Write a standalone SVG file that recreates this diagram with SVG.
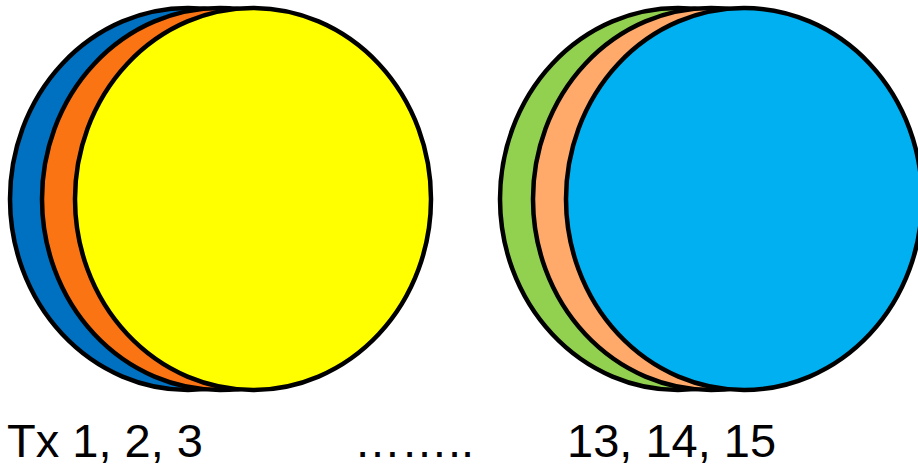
<svg xmlns="http://www.w3.org/2000/svg" width="918" height="466" viewBox="0 0 918 466">
<style>
.c{stroke:#000;stroke-width:4.5}
.t{font-family:"Liberation Sans",Arial,sans-serif;font-size:47px;fill:#000}
</style>
<rect width="918" height="466" fill="#fff"/>
<g id="group-left">
<ellipse id="tx1" class="c" cx="188" cy="199" rx="178" ry="191" fill="#0070C0"/>
<ellipse id="tx2" class="c" cx="220" cy="199" rx="178" ry="191" fill="#FA7414"/>
<ellipse id="tx3" class="c" cx="253" cy="199" rx="178" ry="191" fill="#FFFF00"/>
</g>
<g id="group-right">
<ellipse id="tx13" class="c" cx="678" cy="199" rx="178" ry="191" fill="#92D050"/>
<ellipse id="tx14" class="c" cx="711" cy="199" rx="178" ry="191" fill="#FFA96B"/>
<ellipse id="tx15" class="c" cx="744" cy="199" rx="178" ry="191" fill="#00B0F0"/>
</g>
<g id="labels">
<text class="t" x="7" y="457">Tx 1, 2, 3</text>
<text class="t" x="354" y="457">……..</text>
<text class="t" x="567" y="457">13, 14, 15</text>
</g>
</svg>
